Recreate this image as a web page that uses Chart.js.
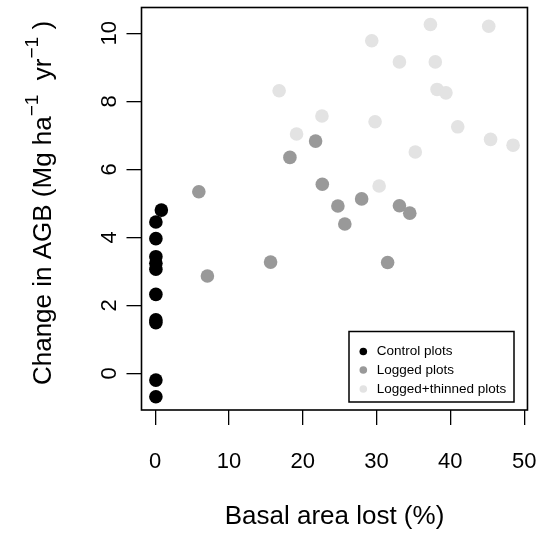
<!DOCTYPE html>
<html>
<head>
<meta charset="utf-8">
<script src="https://cdn.jsdelivr.net/npm/chart.js@4.4.1/dist/chart.umd.min.js"></script>
<style>
html, body { margin: 0; padding: 0; background: #fff; }
#wrap { width: 560px; height: 534px; }
</style>
</head>
<body>
<div id="wrap"><canvas id="agbChart" width="560" height="534"></canvas></div>
<script>
const seriesNames = ['Control plots', 'Logged plots', 'Logged+thinned plots'];
const seriesColors = ['#000000', '#999999', '#e3e3e3'];

const controlX = [0.84, 0.1, 0.1, 0.1, 0.1, 0.1, 0.1, 0.1, 0.1, 0.1, 0.1];
const controlY = [4.80, 4.45, 3.96, 3.43, 3.24, 3.06, 2.32, 1.57, 1.49, -0.20, -0.69];

const loggedX = [5.92, 7.08, 15.64, 18.26, 21.74, 22.65, 24.76, 25.7, 27.98, 33.1, 34.5, 31.5];
const loggedY = [5.34, 2.86, 3.27, 6.35, 6.83, 5.56, 4.92, 4.39, 5.13, 4.93, 4.71, 3.26];

const thinnedX = [16.8, 19.16, 22.6, 29.35, 29.8, 30.35, 33.1, 35.25, 37.3, 37.96, 38.2, 39.4, 41.0, 45.2, 45.45, 48.5];
const thinnedY = [8.31, 7.04, 7.57, 9.78, 7.4, 5.51, 9.16, 6.51, 10.26, 9.16, 8.35, 8.25, 7.25, 10.21, 6.88, 6.71];

const xTicks = [0, 10, 20, 30, 40, 50];
const yTicks = [0, 2, 4, 6, 8, 10];
const xTitle = 'Basal area lost (%)';

const FONT = "'Liberation Sans', Arial, Helvetica, sans-serif";

const toPoints = (xs, ys) => xs.map((x, i) => ({ x: x, y: ys[i] }));

// R style box, rotated y labels, y title with superscripts, legend
const rDecor = {
    id: 'rDecor',
    afterDraw(chart) {
        const ctx = chart.ctx;
        const a = chart.chartArea;
        const ys = chart.scales.y;
        ctx.save();
        ctx.strokeStyle = '#000';
        ctx.lineWidth = 1.6;
        ctx.strokeRect(a.left, a.top, a.right - a.left, a.bottom - a.top);

        // y tick labels, parallel to the axis
        ctx.fillStyle = '#000';
        ctx.font = '22px ' + FONT;
        ctx.textAlign = 'center';
        ctx.textBaseline = 'alphabetic';
        ys.ticks.forEach(t => {
            const py = ys.getPixelForValue(t.value);
            ctx.save();
            ctx.translate(116, py);
            ctx.rotate(-Math.PI / 2);
            ctx.fillText(String(t.value), 0, 0);
            ctx.restore();
        });

        // y title
        const parts = [
            { t: 'Change in AGB (Mg ha', sup: false },
            { t: '\u22121', sup: true },
            { t: '  yr', sup: false },
            { t: '\u22121', sup: true },
            { t: ' )', sup: false }
        ];
        let total = 0;
        parts.forEach(p => {
            ctx.font = (p.sup ? '19px ' : '26px ') + FONT;
            p.w = ctx.measureText(p.t).width;
            total += p.w;
        });
        ctx.save();
        ctx.translate(51, 203);
        ctx.rotate(-Math.PI / 2);
        ctx.textAlign = 'left';
        let cx = -total / 2;
        parts.forEach(p => {
            ctx.font = (p.sup ? '19px ' : '26px ') + FONT;
            ctx.fillText(p.t, cx, p.sup ? -13 : 0);
            cx += p.w;
        });
        ctx.restore();

        // legend
        ctx.lineWidth = 1.5;
        ctx.strokeRect(349, 331.5, 165, 70.5);
        ctx.font = '13.5px ' + FONT;
        ctx.textAlign = 'left';
        ctx.textBaseline = 'middle';
        const rows = [351.5, 370, 389];
        seriesNames.forEach((name, i) => {
            ctx.beginPath();
            ctx.arc(363.3, rows[i], 3.8, 0, Math.PI * 2);
            ctx.fillStyle = seriesColors[i];
            ctx.fill();
            ctx.fillStyle = '#000';
            ctx.fillText(name, 376.7, rows[i]);
        });
        ctx.restore();
    }
};

const axisGrid = { drawOnChartArea: false, drawTicks: true, tickLength: 15, color: '#000', lineWidth: 1.3 };

const ctx = document.getElementById('agbChart').getContext('2d');
new Chart(ctx, {
    type: 'scatter',
    data: {
        datasets: [
            { label: seriesNames[0], data: toPoints(controlX, controlY), backgroundColor: seriesColors[0], order: 1 },
            { label: seriesNames[1], data: toPoints(loggedX, loggedY), backgroundColor: seriesColors[1], order: 2 },
            { label: seriesNames[2], data: toPoints(thinnedX, thinnedY), backgroundColor: seriesColors[2], order: 3 }
        ]
    },
    options: {
        responsive: false,
        animation: false,
        elements: { point: { radius: 6.8, borderWidth: 0, hoverRadius: 6.8 } },
        layout: { padding: { left: 0, right: 13.3, top: 7.5, bottom: 0 } },
        plugins: { legend: { display: false }, tooltip: { enabled: false } },
        scales: {
            x: {
                type: 'linear', min: -1.85, max: 50.45,
                afterBuildTicks: s => { s.ticks = xTicks.map(v => ({ value: v })); },
                afterFit: s => { s.height = 124; },
                grid: axisGrid,
                border: { display: false },
                ticks: { font: { family: FONT, size: 22 }, color: '#000', padding: 23.5, maxRotation: 0, autoSkip: false },
                title: { display: true, text: xTitle, color: '#000', font: { family: FONT, size: 26 }, padding: { top: 0, bottom: 1.7 } }
            },
            y: {
                type: 'linear', min: -1.08, max: 10.76,
                afterBuildTicks: s => { s.ticks = yTicks.map(v => ({ value: v })); },
                afterFit: s => { s.width = 141.5; },
                grid: axisGrid,
                border: { display: false },
                ticks: { display: false }
            }
        }
    },
    plugins: [rDecor]
});
</script>
</body>
</html>
